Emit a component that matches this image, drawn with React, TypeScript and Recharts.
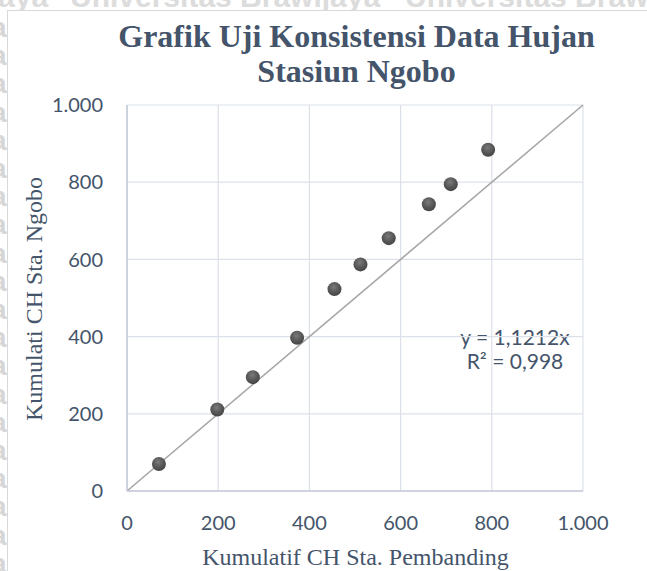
import React from "react";
import {
  ScatterChart,
  Scatter,
  XAxis,
  YAxis,
  CartesianGrid,
  ReferenceLine,
} from "recharts";

// Cumulative rainfall (CH) — comparison stations (x) vs Ngobo station (y)
const kumulatifPembanding = [70, 198, 276, 373, 455, 512, 574, 662, 710, 792];
const kumulatifNgobo = [70, 211, 295, 397, 523, 587, 655, 743, 795, 884];

const axisTicks = [0, 200, 400, 600, 800, 1000];
const titleLines = ["Grafik Uji Konsistensi Data Hujan", "Stasiun Ngobo"];
const xAxisTitle = "Kumulatif CH Sta. Pembanding";
const yAxisTitle = "Kumulati CH Sta. Ngobo";
const equationLines = ["y = 1,1212x", "R\u00B2 = 0,998"];
const referenceSegment = [
  { x: 0, y: 0 },
  { x: 1000, y: 1000 },
];
const watermarkText = "Universitas Brawijaya";

const data = kumulatifPembanding.map((x, i) => ({ x, y: kumulatifNgobo[i] }));

const TEXT = "#44546A";
const fmt = (v: number) => (v >= 1000 ? v.toLocaleString("de-DE") : String(v));

const Dot = (props: any) => {
  const { cx, cy } = props;
  if (cx == null || cy == null) return null;
  return <circle cx={cx} cy={cy} r={7} fill="url(#dotGrad)" />;
};

export default function App() {
  const leftRows: number[] = [];
  for (let y = 37; y < 600; y += 28.2) leftRows.push(y);
  return (
    <div
      style={{
        position: "absolute",
        left: 0,
        top: 0,
        width: 647,
        height: 571,
        overflow: "hidden",
        background: "#fff",
      }}
    >
      <svg
        width={647}
        height={571}
        style={{ position: "absolute", left: 0, top: 0 }}
      >
        <defs>
          <radialGradient id="dotGrad" cx="45%" cy="35%" r="65%">
            <stop offset="0%" stopColor="#7a7a7a" />
            <stop offset="60%" stopColor="#575757" />
            <stop offset="100%" stopColor="#454545" />
          </radialGradient>
        </defs>
        {/* watermark */}
        {[-262, 70, 405].map((x) => (
          <text
            key={"w" + x}
            x={x}
            y={7}
            fontFamily="Liberation Sans, Arial, sans-serif"
            fontWeight="bold"
            fontSize={30}
            fill="#dcdcdc"
          >
            {watermarkText}
          </text>
        ))}
        {leftRows.map((y) => (
          <text
            key={"l" + y}
            x={6.5}
            y={y}
            textAnchor="end"
            fontFamily="Liberation Sans, Arial, sans-serif"
            fontWeight="bold"
            fontSize={28}
            fill="#d6d6d6"
          >
            {watermarkText}
          </text>
        ))}
        {/* chart frame */}
        <rect
          x={7.5}
          y={10.5}
          width={720}
          height={620}
          fill="#ffffff"
          stroke="#d9d9d9"
          strokeWidth={1}
        />
        {/* title */}
        {titleLines.map((t, i) => (
          <text
            key={t}
            x={356.5}
            y={46.5 + i * 35}
            textAnchor="middle"
            fontFamily="Liberation Serif, Times New Roman, serif"
            fontWeight="bold"
            fontSize={32}
            fill={TEXT}
          >
            {t}
          </text>
        ))}
        {/* axis titles */}
        <text
          x={355.5}
          y={565}
          textAnchor="middle"
          fontFamily="Liberation Serif, Times New Roman, serif"
          fontSize={24}
          fill={TEXT}
        >
          {xAxisTitle}
        </text>
        <text
          x={0}
          y={0}
          transform="translate(42,299) rotate(-90)"
          textAnchor="middle"
          fontFamily="Liberation Serif, Times New Roman, serif"
          fontSize={24}
          fill={TEXT}
        >
          {yAxisTitle}
        </text>
        {/* trendline equation */}
        {equationLines.map((t, i) => (
          <text
            key={t}
            x={515}
            y={345 + i * 24}
            textAnchor="middle"
            fontFamily="Lato, sans-serif"
            fontSize={21}
            fill={TEXT}
          >
            {t}
          </text>
        ))}
      </svg>
      <div style={{ position: "absolute", left: 0, top: 0 }}>
        <ScatterChart
          width={647}
          height={571}
          margin={{ top: 105, right: 64, bottom: 0, left: 0 }}
        >
          <CartesianGrid stroke="#dce1e9" strokeWidth={1.2} />
          <XAxis
            type="number"
            dataKey="x"
            domain={[0, 1000]}
            ticks={axisTicks}
            tickFormatter={fmt}
            height={80}
            tickLine={false}
            tickSize={0}
            tickMargin={25}
            axisLine={{ stroke: "#c3cad6", strokeWidth: 1.5 }}
            tick={{ fill: TEXT, fontSize: 20, fontFamily: "Lato, sans-serif" }}
          />
          <YAxis
            type="number"
            dataKey="y"
            domain={[0, 1000]}
            ticks={axisTicks}
            tickFormatter={fmt}
            width={127}
            tickLine={false}
            tickSize={0}
            tickMargin={24}
            axisLine={{ stroke: "#c3cad6", strokeWidth: 1.5 }}
            tick={{ fill: TEXT, fontSize: 20, fontFamily: "Lato, sans-serif" }}
          />
          <ReferenceLine
            segment={referenceSegment}
            stroke="#a6a6a6"
            strokeWidth={1.6}
            ifOverflow="visible"
          />
          <Scatter data={data} shape={Dot} isAnimationActive={false} />
        </ScatterChart>
      </div>
    </div>
  );
}
